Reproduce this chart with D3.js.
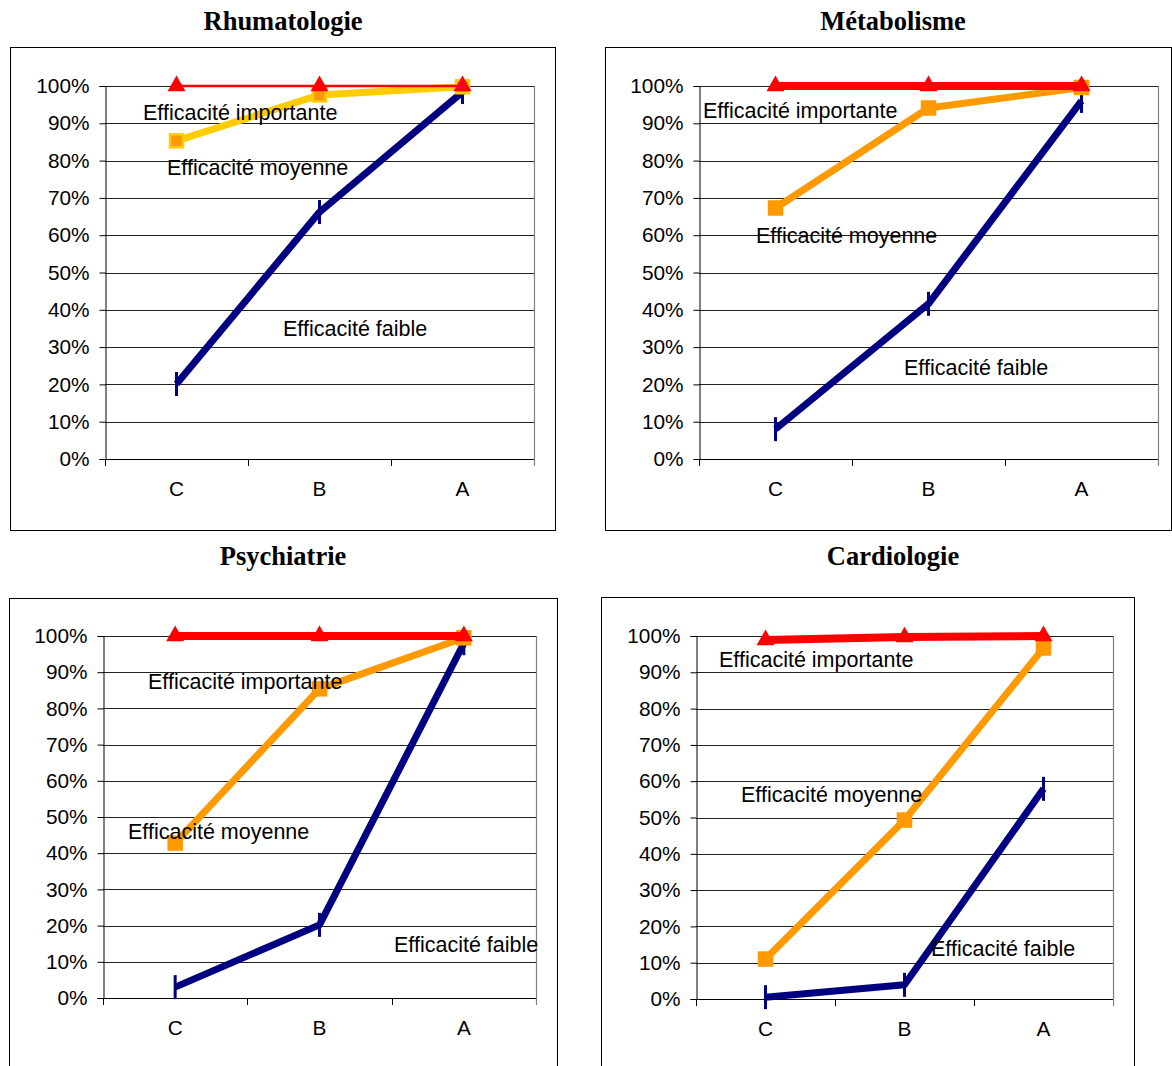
<!DOCTYPE html>
<html>
<head>
<meta charset="utf-8">
<script src="https://cdn.jsdelivr.net/npm/d3@7"></script>
<style>
  html, body { margin: 0; padding: 0; background: #fff; }
  svg { display: block; }
</style>
</head>
<body>
<svg id="chart" width="1172" height="1066"></svg>
<script>
// ---------- DATA ----------
const categories = ["C", "B", "A"];
const panelTitles = ["Rhumatologie", "Métabolisme", "Psychiatrie", "Cardiologie"];
const seriesLabels = ["Efficacité importante", "Efficacité moyenne", "Efficacité faible"];
// values per panel (C, B, A), in %
const importanteValues = [
  [100, 100, 100],
  [100, 100, 100],
  [100, 100, 100],
  [98.9, 99.7, 100]
];
const moyenneValues = [
  [85.3, 97.6, 99.8],
  [67.3, 94.1, 99.6],
  [42.8, 85.4, 99.5],
  [11.0, 49.3, 96.7]
];
const faibleValues = [
  [20.1, 66.2, 98.4],
  [8.0, 41.6, 96.0],
  [3.0, 20.2, 98.0],
  [0.5, 3.9, 57.9]
];
const yTickValues = [0, 10, 20, 30, 40, 50, 60, 70, 80, 90, 100];

// ---------- LAYOUT ----------
const layouts = [
  { frame: [10, 47, 545, 483], plot: [105, 534, 86, 459], title: [283, 21],
    redW: 2.5, moyLine: "#FFCC00", moyFill: "#FF9900", moyStroke: "#FFCC00",
    labels: [[38, 92.8], [62, 78.0], [178, 34.9]] },
  { frame: [605, 47, 566, 483], plot: [699, 1158, 86, 459], title: [893, 21],
    redW: 8, moyLine: "#FF9900", moyFill: "#FF9900", moyStroke: "#FF9900",
    labels: [[4, 93.3], [57, 59.8], [205, 24.4]] },
  { frame: [9, 598, 548, 470], plot: [103, 536, 636, 998], title: [283, 556],
    redW: 8, moyLine: "#FF9900", moyFill: "#FF9900", moyStroke: "#FF9900",
    labels: [[45, 87.3], [25, 45.9], [291, 14.6]] },
  { frame: [601, 597, 533, 471], plot: [696, 1113, 636, 999], title: [893, 556],
    redW: 8, moyLine: "#FF9900", moyFill: "#FF9900", moyStroke: "#FF9900",
    labels: [[23, 93.4], [45, 56.2], [235, 13.8]] }
];

const svg = d3.select("#chart");
const sans = "'Liberation Sans', Arial, sans-serif";
const serif = "'Liberation Serif', 'Times New Roman', serif";

panelTitles.forEach((title, i) => {
  const L = layouts[i];
  const g = svg.append("g");

  // frame
  g.append("rect")
    .attr("x", L.frame[0] + 0.5).attr("y", L.frame[1] + 0.5)
    .attr("width", L.frame[2]).attr("height", L.frame[3])
    .attr("fill", "none").attr("stroke", "#000").attr("stroke-width", 1);

  // title
  g.append("text")
    .attr("x", L.title[0]).attr("y", L.title[1])
    .attr("text-anchor", "middle").attr("dominant-baseline", "central")
    .attr("font-family", serif).attr("font-weight", "bold").attr("font-size", 26.5)
    .text(title);

  const [left, right, top, bottom] = L.plot;
  const x = d3.scaleBand().domain(categories).range([left, right]).paddingInner(0).paddingOuter(0);
  const y = d3.scaleLinear().domain([0, 100]).range([bottom, top]);
  const cx = c => x(c) + x.bandwidth() / 2;

  // gridlines
  g.append("g").selectAll("line").data(yTickValues.filter(v => v > 0)).join("line")
    .attr("x1", left).attr("x2", right)
    .attr("y1", d => Math.round(y(d)) + 0.5).attr("y2", d => Math.round(y(d)) + 0.5)
    .attr("stroke", "#222").attr("stroke-width", 1);

  // right border of plot
  g.append("line")
    .attr("x1", right + 0.5).attr("x2", right + 0.5)
    .attr("y1", top).attr("y2", bottom + 6)
    .attr("stroke", "#808080").attr("stroke-width", 1.2);

  // y axis
  const yAxis = d3.axisLeft(y).tickValues(yTickValues).tickFormat(d => d + "%")
    .tickSize(6).tickPadding(10);
  const ya = g.append("g").attr("transform", `translate(${left + 0.5},0)`).call(yAxis);
  ya.select(".domain").attr("stroke", "#000");
  ya.selectAll(".tick line").attr("stroke", "#000");
  ya.selectAll(".tick text").attr("font-family", sans).attr("font-size", 20.8).attr("fill", "#000");

  // x axis
  const xAxis = d3.axisBottom(x).tickSize(0).tickPadding(22);
  const xa = g.append("g").attr("transform", `translate(0,${bottom + 0.5})`).call(xAxis);
  xa.select(".domain").attr("stroke", "#000").attr("d", `M${left},0H${right}`);
  xa.selectAll(".tick text").attr("font-family", sans).attr("font-size", 20.8).attr("fill", "#000");
  // x ticks between categories
  const boundaries = categories.map(c => x(c)).concat([right]);
  g.append("g").selectAll("line").data(boundaries).join("line")
    .attr("x1", d => Math.round(d) + 0.5).attr("x2", d => Math.round(d) + 0.5)
    .attr("y1", bottom).attr("y2", bottom + 7)
    .attr("stroke", d => d === right ? "#808080" : "#000");

  const line = d3.line().x((d, j) => cx(categories[j])).y(d => y(d));

  // faible (navy)
  g.append("path").datum(faibleValues[i])
    .attr("d", line).attr("fill", "none")
    .attr("stroke", "#000080").attr("stroke-width", 7).attr("stroke-linejoin", "round");
  g.append("g").selectAll("line").data(faibleValues[i]).join("line")
    .attr("x1", (d, j) => cx(categories[j])).attr("x2", (d, j) => cx(categories[j]))
    .attr("y1", d => y(d) - 12).attr("y2", d => y(d) + 12)
    .attr("stroke", "#000080").attr("stroke-width", 3);

  // moyenne
  g.append("path").datum(moyenneValues[i])
    .attr("d", line).attr("fill", "none")
    .attr("stroke", L.moyLine).attr("stroke-width", 7).attr("stroke-linejoin", "round");
  g.append("g").selectAll("rect").data(moyenneValues[i]).join("rect")
    .attr("x", (d, j) => cx(categories[j]) - 6.5).attr("y", d => y(d) - 6.5)
    .attr("width", 13).attr("height", 13)
    .attr("fill", L.moyFill).attr("stroke", L.moyStroke).attr("stroke-width", 2.5);

  // importante (red)
  g.append("path").datum(importanteValues[i])
    .attr("d", line).attr("fill", "none")
    .attr("stroke", "#FF0000").attr("stroke-width", L.redW);
  const tri = d3.symbol().type(d3.symbolTriangle).size(140);
  g.append("g").selectAll("path").data(importanteValues[i]).join("path")
    .attr("transform", (d, j) => `translate(${cx(categories[j])},${y(d)})`)
    .attr("d", tri).attr("fill", "#FF0000");

  // series labels
  seriesLabels.forEach((lab, k) => {
    g.append("text")
      .attr("x", left + L.labels[k][0]).attr("y", y(L.labels[k][1]))
      .attr("dominant-baseline", "central")
      .attr("font-family", sans).attr("font-size", 21.5).attr("fill", "#000")
      .text(lab);
  });
});
</script>
</body>
</html>
